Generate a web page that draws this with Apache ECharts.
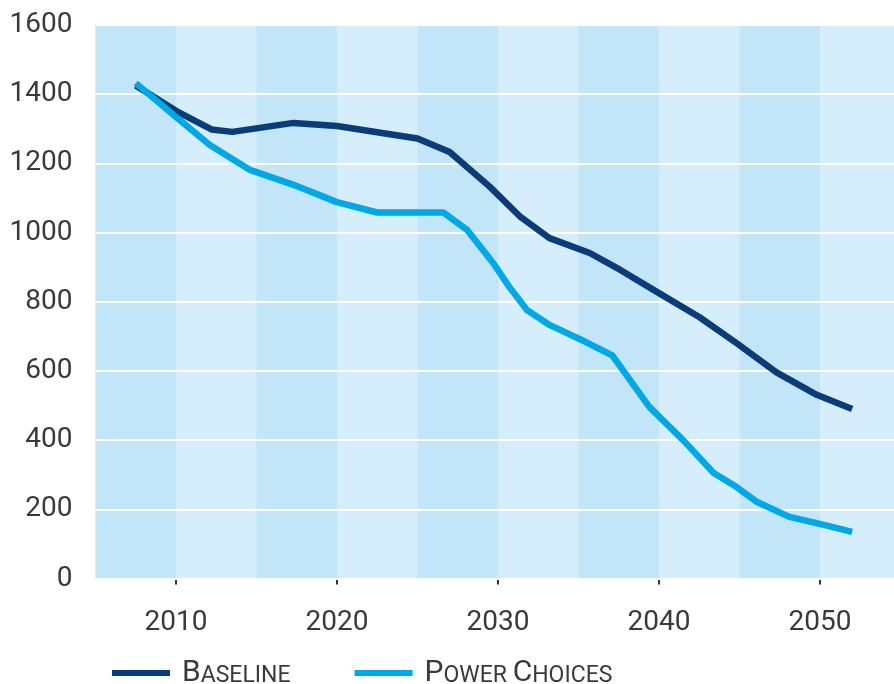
<!DOCTYPE html>
<html>
<head>
<meta charset="utf-8">
<script src="https://cdn.jsdelivr.net/npm/echarts@6/dist/echarts.min.js"></script>
<style>
  html, body { margin: 0; padding: 0; background: #ffffff; }
  #chart { width: 894px; height: 684px; }
</style>
</head>
<body>
<div id="chart"></div>
<script>
// Series values, read as [year, value] pairs
const baselineYears = [2007.5, 2010, 2012.2, 2013.5, 2017.3, 2020, 2025, 2027, 2029.5, 2031.4, 2033.2, 2035.7, 2037.6, 2040, 2042.5, 2044.8, 2047.3, 2049.8, 2052];
const baselineValues = [1425, 1352, 1298, 1291, 1317, 1308, 1272, 1233, 1132, 1045, 984, 941, 892, 825, 756, 681, 596, 531, 490];

const powerYears = [2007.5, 2010, 2012.1, 2014.6, 2017.3, 2020, 2022.5, 2026.6, 2028.1, 2029.7, 2030.7, 2031.8, 2033.2, 2035.4, 2037.1, 2039.4, 2041.5, 2043.4, 2044.8, 2046.1, 2048.1, 2049.8, 2052];
const powerValues = [1432, 1334, 1253, 1181, 1138, 1088, 1058, 1058, 1007, 912, 843, 776, 733, 685, 645, 496, 400, 305, 265, 221, 178, 160, 135];

const seriesNames = ['Baseline', 'Power Choices'];
const xTickYears = [2010, 2020, 2030, 2040, 2050];
// Shaded half-decade bands behind the lines
const bandRanges = [[2005, 2010], [2015, 2020], [2025, 2030], [2035, 2040], [2045, 2050]];

const FONT = 'Roboto';
const TEXT = '#3a3a3a';

const zip = (xs, ys) => xs.map((x, i) => [x, ys[i]]);

const chart = echarts.init(document.getElementById('chart'), null, { renderer: 'canvas' });

chart.setOption({
  animation: false,
  backgroundColor: '#ffffff',
  grid: {
    left: 95.5, right: 0, top: 25, bottom: 105.5,
    show: true, backgroundColor: '#d6eefb', borderWidth: 0
  },
  legend: {
    left: 107, top: 653,
    icon: 'rect', itemWidth: 58, itemHeight: 6, itemGap: 64,
    data: seriesNames,
    formatter: name => name.split(' ')
      .map(w => '{a|' + w[0] + '}{b|' + w.slice(1).toUpperCase() + '}')
      .join('{b| }'),
    textStyle: {
      padding: [0, 0, 0, 7],
      rich: {
        a: { fontFamily: FONT, fontSize: 30, color: TEXT, verticalAlign: 'bottom', lineHeight: 30 },
        b: { fontFamily: FONT, fontSize: 23, color: TEXT, verticalAlign: 'bottom', lineHeight: 30 }
      }
    }
  },
  xAxis: {
    type: 'value', min: 2005, max: 2054.6,
    axisLine: { show: false },
    axisTick: {
      show: true, length: 6, inside: false,
      customValues: xTickYears,
      lineStyle: { color: '#333', width: 2 }
    },
    axisLabel: {
      customValues: xTickYears,
      formatter: v => String(v),
      margin: 30, fontFamily: FONT, fontSize: 28, color: TEXT
    },
    splitLine: { show: false }
  },
  yAxis: {
    type: 'value', min: 0, max: 1600, interval: 200, z: 2,
    axisLine: { show: false },
    axisTick: { show: false },
    axisLabel: { formatter: v => String(v), margin: 23, fontFamily: FONT, fontSize: 28, color: TEXT },
    splitLine: { show: true, lineStyle: { color: '#ffffff', width: 2 } }
  },
  series: [
    {
      // carries only the background bands, beneath the gridlines
      type: 'line', data: [], z: 1, silent: true,
      markArea: {
        silent: true,
        itemStyle: { color: '#c3e5f8' },
        data: bandRanges.map(r => [{ xAxis: r[0] }, { xAxis: r[1] }])
      }
    },
    {
      name: seriesNames[0],
      type: 'line',
      data: zip(baselineYears, baselineValues),
      showSymbol: false, symbol: 'none',
      lineStyle: { color: '#0a3c7a', width: 6.5, join: 'round' },
      itemStyle: { color: '#0a3c7a' },
      z: 3
    },
    {
      name: seriesNames[1],
      type: 'line',
      data: zip(powerYears, powerValues),
      showSymbol: false, symbol: 'none',
      lineStyle: { color: '#00a8e6', width: 6.5, join: 'round' },
      itemStyle: { color: '#00a8e6' },
      z: 4
    }
  ]
});
</script>
</body>
</html>
